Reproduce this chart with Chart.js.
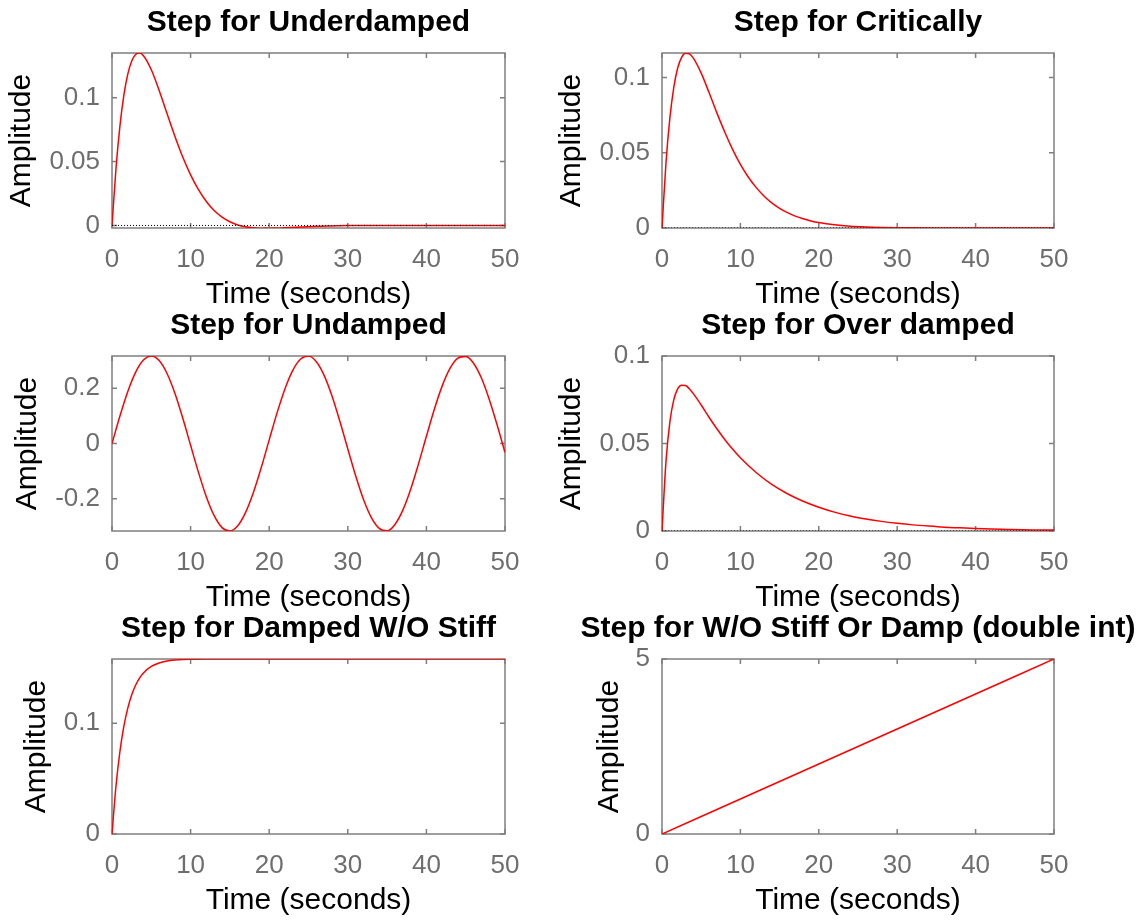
<!DOCTYPE html>
<html>
<head>
<meta charset="utf-8">
<title>Step responses</title>
<script src="https://cdn.jsdelivr.net/npm/chart.js@4.4.1/dist/chart.umd.min.js"></script>
<style>
  html, body { margin: 0; padding: 0; background: #fff; }
  body { width: 1141px; height: 920px; position: relative; overflow: hidden; }
  canvas { position: absolute; }
</style>
</head>
<body>
<canvas id="c-under" width="617" height="313" style="left:0px;top:0px"></canvas>
<canvas id="c-crit" width="636" height="313" style="left:540px;top:0px"></canvas>
<canvas id="c-undamped" width="617" height="313" style="left:0px;top:303px"></canvas>
<canvas id="c-over" width="636" height="313" style="left:540px;top:303px"></canvas>
<canvas id="c-nostiff" width="617" height="313" style="left:0px;top:606px"></canvas>
<canvas id="c-double" width="636" height="313" style="left:540px;top:606px"></canvas>
<script>
const xTicks = [0, 10, 20, 30, 40, 50];

const tUnder = [0, 0.5, 1, 1.5, 2, 2.5, 3, 3.5, 4, 5, 6, 7, 8, 9, 10, 11, 12, 13, 14, 15, 16, 17, 18, 19, 20, 21, 22, 24, 26, 28, 30, 32, 34, 36, 40, 45, 50];
const yUnder = [0, 0.0440, 0.0774, 0.1016, 0.1183, 0.1286, 0.1339, 0.1350, 0.1329, 0.1219, 0.1057, 0.0877, 0.0699, 0.0536, 0.0396, 0.0280, 0.0188, 0.0117, 0.0065, 0.0029, 0.0004, -0.0011, -0.0019, -0.0023, -0.0023, -0.0022, -0.0019, -0.0013, -0.0007, -0.0004, -0.0001, 0, 0, 0, 0, 0, 0];

const tCrit = [0, 0.5, 1, 1.5, 2, 2.5, 3, 3.5, 4, 5, 6, 7, 8, 9, 10, 11, 12, 13, 14, 15, 16, 17, 18, 19, 20, 22, 24, 26, 28, 30, 32, 35, 40, 45, 50];
const yCrit = [0, 0.0427, 0.0729, 0.0933, 0.1063, 0.1134, 0.1162, 0.1157, 0.1129, 0.1029, 0.0900, 0.0765, 0.0638, 0.0523, 0.0423, 0.0339, 0.0270, 0.0213, 0.0167, 0.0131, 0.0102, 0.0079, 0.0061, 0.0047, 0.0036, 0.0021, 0.0012, 0.0007, 0.0004, 0.0002, 0.0001, 0.00005, 0, 0, 0];

const tUndamped = [0, 1, 2, 3, 4, 5, 6, 7, 8, 9, 10, 11, 12, 13, 14, 15, 16, 17, 18, 19, 20, 21, 22, 23, 24, 25, 26, 27, 28, 29, 30, 31, 32, 33, 34, 35, 36, 37, 38, 39, 40, 41, 42, 43, 44, 45, 46, 47, 48, 49, 50];
const yUndamped = [0, 0.0983, 0.1870, 0.2570, 0.3015, 0.3162, 0.2995, 0.2530, 0.1816, 0.0921, -0.0065, -0.1043, -0.1922, -0.2609, -0.3039, -0.3160, -0.2972, -0.2488, -0.1761, -0.0859, 0.0131, 0.1107, 0.1973, 0.2644, 0.3052, 0.3158, 0.2951, 0.2451, 0.1707, 0.0793, -0.0196, -0.1165, -0.2025, -0.2679, -0.3069, -0.3154, -0.2926, -0.2409, -0.1653, -0.0732, 0.0261, 0.1228, 0.2074, 0.2713, 0.3084, 0.3148, 0.2902, 0.2365, 0.1591, 0.0667, -0.0326];

const tOver = [0, 0.5, 1, 1.5, 2, 2.5, 3, 3.5, 4, 5, 6, 7, 8, 9, 10, 12, 14, 16, 18, 20, 22, 24, 26, 28, 30, 32, 34, 36, 38, 40, 42, 44, 46, 48, 50];
const yOver = [0, 0.0392, 0.0622, 0.0749, 0.0812, 0.0833, 0.0831, 0.0812, 0.0785, 0.0720, 0.0650, 0.0584, 0.0523, 0.0468, 0.0418, 0.0334, 0.0266, 0.0213, 0.0170, 0.0136, 0.0108, 0.0086, 0.0069, 0.0055, 0.0044, 0.0035, 0.0028, 0.0022, 0.0018, 0.0014, 0.0011, 0.0009, 0.0007, 0.0006, 0.0005];

const tNoStiff = [0, 0.5, 1, 1.5, 2, 2.5, 3, 3.5, 4, 5, 6, 7, 8, 9, 10, 12, 15, 20, 30, 40, 50];
const yNoStiff = [0, 0.0429, 0.0741, 0.0969, 0.1135, 0.1256, 0.1344, 0.1408, 0.1455, 0.1514, 0.1545, 0.1562, 0.1571, 0.1576, 0.1578, 0.1580, 0.1581, 0.1581, 0.1581, 0.1581, 0.1581];

const tDouble = [0, 10, 20, 30, 40, 50];
const yDouble = [0, 1, 2, 3, 4, 5];

const zeroLineT = [0, 50];
const zeroLineY = [0, 0];

const titles = ['Step for Underdamped', 'Step for Critically', 'Step for Undamped', 'Step for Over damped', 'Step for Damped W/O Stiff', 'Step for W/O Stiff Or Damp (double int)'];
const xLabel = 'Time (seconds)';
const yLabel = 'Amplitude';

const fontFamily = '"Liberation Sans", Arial, Helvetica, sans-serif';
const lineColor = '#ff0000';
const frameColor = '#7f7f7f';
const tickColor = '#6e6e6e';

// Рамка с короткими засечками внутрь, как в MATLAB
const framePlugin = {
    id: 'frame',
    beforeDatasetsDraw(chart) {
        const { ctx, chartArea: a, scales: { x, y } } = chart;
        const len = 5;
        ctx.save();
        ctx.strokeStyle = frameColor;
        ctx.lineWidth = 1.5;
        ctx.beginPath();
        x.ticks.forEach(t => {
            const px = x.getPixelForValue(t.value);
            ctx.moveTo(px, a.bottom); ctx.lineTo(px, a.bottom - len);
            ctx.moveTo(px, a.top); ctx.lineTo(px, a.top + len);
        });
        y.ticks.forEach(t => {
            const py = y.getPixelForValue(t.value);
            ctx.moveTo(a.left, py); ctx.lineTo(a.left + len, py);
            ctx.moveTo(a.right, py); ctx.lineTo(a.right - len, py);
        });
        ctx.stroke();
        ctx.strokeRect(a.left, a.top, a.right - a.left, a.bottom - a.top);
        ctx.restore();
    }
};

function points(ts, ys) {
    return ts.map((t, i) => ({ x: t, y: ys[i] }));
}

function makeChart(id, opts) {
    const datasets = [];
    if (opts.zeroLine) {
        datasets.push({
            data: points(zeroLineT, zeroLineY),
            borderColor: '#000',
            borderWidth: 1,
            borderDash: [1, 2],
            pointRadius: 0
        });
    }
    datasets.push({
        data: points(opts.t, opts.y),
        borderColor: lineColor,
        borderWidth: 1.5,
        pointRadius: 0,
        cubicInterpolationMode: 'monotone'
    });

    return new Chart(document.getElementById(id), {
        type: 'line',
        data: { datasets },
        options: {
            responsive: false,
            animation: false,
            devicePixelRatio: 1,
            layout: { padding: 0 },
            plugins: {
                legend: { display: false },
                tooltip: { enabled: false },
                title: {
                    display: true,
                    text: opts.title,
                    color: '#000',
                    font: { family: fontFamily, size: 30, weight: 'bold' },
                    padding: { top: 5, bottom: 12 }
                }
            },
            scales: {
                x: {
                    type: 'linear',
                    min: 0,
                    max: 50,
                    afterBuildTicks: s => { s.ticks = xTicks.map(v => ({ value: v })); },
                    afterFit: s => { s.height = 85; },
                    grid: { display: false, drawTicks: false },
                    border: { display: false },
                    ticks: {
                        color: tickColor,
                        padding: 16,
                        maxRotation: 0,
                        font: { family: fontFamily, size: 26 },
                        callback: v => String(v)
                    },
                    title: {
                        display: true,
                        text: xLabel,
                        color: '#000',
                        font: { family: fontFamily, size: 30 },
                        padding: { top: 0, bottom: 0 }
                    }
                },
                y: {
                    type: 'linear',
                    min: opts.yMin,
                    max: opts.yMax,
                    afterBuildTicks: s => { s.ticks = opts.yTicks.map(v => ({ value: v })); },
                    afterFit: s => { s.width = opts.yWidth; },
                    grid: { display: false, drawTicks: false },
                    border: { display: false },
                    ticks: {
                        color: tickColor,
                        padding: 12,
                        font: { family: fontFamily, size: 26 },
                        callback: v => String(+v.toFixed(4))
                    },
                    title: {
                        display: true,
                        text: yLabel,
                        color: '#000',
                        font: { family: fontFamily, size: 30 },
                        padding: { top: opts.yTitlePad, bottom: 0 }
                    }
                },
                // пустая правая ось, чтобы заголовок центрировался над областью графика
                yR: {
                    type: 'linear',
                    position: 'right',
                    min: opts.yMin,
                    max: opts.yMax,
                    afterFit: s => { s.width = opts.yWidth; },
                    grid: { display: false, drawTicks: false },
                    border: { display: false },
                    ticks: { display: false }
                }
            }
        },
        plugins: [framePlugin]
    });
}

document.addEventListener('DOMContentLoaded', () => {
    const left = { yWidth: 112 };
    const right = { yWidth: 122 };

    makeChart('c-under', { ...left, title: titles[0], t: tUnder, y: yUnder, yMin: -0.002, yMax: 0.135, yTicks: [0, 0.05, 0.1], yTitlePad: 4, zeroLine: true });
    makeChart('c-crit', { ...right, title: titles[1], t: tCrit, y: yCrit, yMin: 0, yMax: 0.1163, yTicks: [0, 0.05, 0.1], yTitlePad: 14, zeroLine: true });
    makeChart('c-undamped', { ...left, title: titles[2], t: tUndamped, y: yUndamped, yMin: -0.3162, yMax: 0.3162, yTicks: [-0.2, 0, 0.2], yTitlePad: 10, zeroLine: false });
    makeChart('c-over', { ...right, title: titles[3], t: tOver, y: yOver, yMin: 0, yMax: 0.1, yTicks: [0, 0.05, 0.1], yTitlePad: 14, zeroLine: true });
    makeChart('c-nostiff', { ...left, title: titles[4], t: tNoStiff, y: yNoStiff, yMin: 0, yMax: 0.1581, yTicks: [0, 0.1], yTitlePad: 19, zeroLine: false });
    makeChart('c-double', { ...right, title: titles[5], t: tDouble, y: yDouble, yMin: 0, yMax: 5, yTicks: [0, 5], yTitlePad: 52, zeroLine: false });
});
</script>
</body>
</html>
